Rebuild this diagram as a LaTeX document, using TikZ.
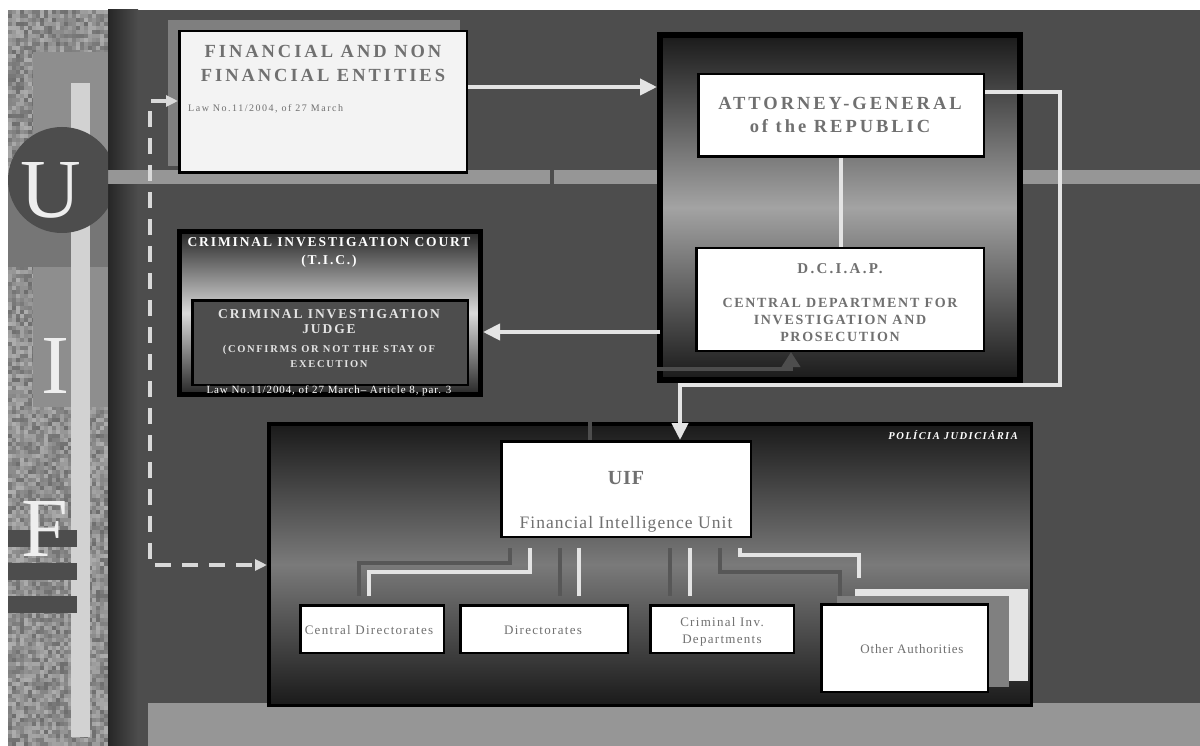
\documentclass[tikz,border=0pt]{standalone}
\usepackage{fontspec}
\setmainfont{Liberation Serif}
\usetikzlibrary{arrows.meta,patterns,calc}
\definecolor{bg}{HTML}{4D4D4D}
\definecolor{band}{HTML}{969696}
\definecolor{rectA}{HTML}{8E8E8E}
\definecolor{rectB}{HTML}{767676}
\definecolor{barl}{HTML}{D2D2D2}
\definecolor{letter}{HTML}{EEEEEE}
\definecolor{finshadow}{HTML}{7F7F7F}
\definecolor{finfill}{HTML}{F3F3F3}
\definecolor{lightline}{HTML}{E4E4E4}
\definecolor{darkline}{HTML}{575757}
\definecolor{txtgray}{HTML}{707070}
\definecolor{oashadow}{HTML}{808080}
\definecolor{edge}{HTML}{262626}
\definecolor{deep}{HTML}{1A1A1A}
\definecolor{agmid}{HTML}{A3A3A3}
\definecolor{ticmid}{HTML}{DADADA}
\definecolor{polmid}{HTML}{7A7A7A}
\definecolor{upline}{HTML}{4D4D4D}
\definecolor{dashc}{HTML}{D9D9D9}
\begin{document}
\begin{tikzpicture}[x=1pt,y=-1pt,
  box/.style={draw=black, fill=white, line width=2.5pt, anchor=north west, inner sep=0pt},
  frame/.style={draw=black, anchor=north west, inner sep=0pt},
  wline/.style={draw=lightline, line width=4pt},
  dline/.style={draw=darkline, line width=4pt},
  arr/.style={-{Triangle[length=17pt,width=16pt]}},
  txt/.style={anchor=base, inner sep=0pt, text=txtgray},
  wtxt/.style={anchor=base, inner sep=0pt, text=white},
  big/.style={anchor=base, inner sep=0pt, text=letter, font=\fontsize{84}{84}\selectfont},
]
\useasboundingbox (0,0) rectangle (1200,746);
\fill[white] (0,0) rectangle (1200,746);
\fill[bg] (108,10) rectangle (1200,746);
\shade[left color=edge, right color=bg] (108,10) rectangle (138,746);
% bands
\fill[band] (108,170) rectangle (550,184);
\fill[band] (554,170) rectangle (1200,184);
\fill[band] (148,703) rectangle (1200,746);
% left strip: woven texture
\pgfmathsetseed{11}
\fill[black!45] (8,10) rectangle (108,746);
\foreach \i in {0,...,24}{
  \foreach \j in {0,...,183}{
    \pgfmathsetmacro{\rr}{int(32+26*rnd)}
    \fill[black!\rr] (8+4*\i,10+4*\j) rectangle ++(4.2,4.2);
  }
}
\fill[rectA] (33,52) rectangle (108,407);
\fill[rectB] (8,180) rectangle (108,267);
\fill[barl] (71,83) rectangle (90,737);
\begin{scope}
\clip (8,10) rectangle (108,746);
\fill[bg] (62,180) ellipse [x radius=54pt, y radius=53pt];
\end{scope}
\fill[bg] (8,530) rectangle (77,547);
\fill[bg] (8,563) rectangle (77,580);
\fill[bg] (8,596) rectangle (77,613);
\node[big] (lu) at (51,218) {U};
\node[big] (li) at (55,393) {I};
\node[big, anchor=base west] (lf) at (21,556) {F};

% financial entities
\fill[finshadow] (168,20) rectangle (460,166);
\node[box, fill=finfill, minimum width=287.5pt, minimum height=141.5pt] (fin) at (178,30) {};
\node[txt, font=\bfseries\fontsize{18.5}{22}\selectfont\addfontfeatures{LetterSpace=16}] (t1) at (323,58) {FINANCIAL AND NON};
\node[txt, font=\bfseries\fontsize{18.5}{22}\selectfont\addfontfeatures{LetterSpace=16}] (t2) at (323,82) {FINANCIAL ENTITIES};
\node[txt, anchor=base west, font=\fontsize{10}{12}\selectfont\addfontfeatures{LetterSpace=15}] (t3) at (188,112) {Law No.11/2004, of 27 March};

% attorney general frame
\node[frame, line width=6pt, top color=deep, bottom color=deep, middle color=agmid,
      minimum width=360pt, minimum height=345pt] (agout) at (657,32) {};
\node[box, minimum width=285.5pt, minimum height=82.5pt] (ag) at (697,73) {};
\node[box, minimum width=287.5pt, minimum height=102.5pt] (dciap) at (695,247) {};
\node[txt, font=\bfseries\fontsize{18.5}{22}\selectfont\addfontfeatures{LetterSpace=16}] (t4) at (840,110) {ATTORNEY-GENERAL};
\node[txt, font=\bfseries\fontsize{18.5}{22}\selectfont\addfontfeatures{LetterSpace=16}] (t5) at (840,133) {of the REPUBLIC};
\node[txt, font=\bfseries\fontsize{15}{18}\selectfont\addfontfeatures{LetterSpace=15}] (t6) at (840,273) {D.C.I.A.P.};
\node[txt, font=\bfseries\fontsize{14}{16}\selectfont\addfontfeatures{LetterSpace=12}] (t7) at (840,308) {CENTRAL DEPARTMENT FOR};
\node[txt, font=\bfseries\fontsize{14}{16}\selectfont\addfontfeatures{LetterSpace=12}] (t8) at (840,324) {INVESTIGATION AND};
\node[txt, font=\bfseries\fontsize{14}{16}\selectfont\addfontfeatures{LetterSpace=12}] (t9) at (840,341) {PROSECUTION};
\draw[wline] (ag.south) -- (ag.south |- dciap.north);

% T.I.C.
\node[frame, line width=5pt, top color=edge, bottom color=edge, middle color=ticmid,
      minimum width=301pt, minimum height=163pt] (ticout) at (177,229) {};
\node[box, fill=bg, minimum width=275.5pt, minimum height=84.5pt] (judge) at (191,299) {};
\node[wtxt, font=\bfseries\fontsize{13.5}{16}\selectfont\addfontfeatures{LetterSpace=14}] (t10) at (329,247) {CRIMINAL INVESTIGATION COURT};
\node[wtxt, font=\bfseries\fontsize{13.5}{16}\selectfont\addfontfeatures{LetterSpace=14}] (t11) at (329,265) {(T.I.C.)};
\node[wtxt, text=lightline, font=\bfseries\fontsize{13.5}{16}\selectfont\addfontfeatures{LetterSpace=14}] (t12) at (329,318) {CRIMINAL INVESTIGATION};
\node[wtxt, text=lightline, font=\bfseries\fontsize{13.5}{16}\selectfont\addfontfeatures{LetterSpace=14}] (t13) at (329,333) {JUDGE};
\node[wtxt, text=lightline, font=\bfseries\fontsize{10.5}{13}\selectfont\addfontfeatures{LetterSpace=16}] (t14) at (329,352) {(CONFIRMS OR NOT THE STAY OF};
\node[wtxt, text=lightline, font=\bfseries\fontsize{10.5}{13}\selectfont\addfontfeatures{LetterSpace=16}] (t15) at (329,367) {EXECUTION};
\node[wtxt, font=\fontsize{11}{13}\selectfont\addfontfeatures{LetterSpace=8}] (t16) at (329,393) {Law No.11/2004, of 27 March\textendash{} Article 8, par. 3};

% Policia Judiciaria
\node[frame, line width=3.5pt, top color=deep, bottom color=deep, middle color=polmid,
      minimum width=762.5pt, minimum height=281.5pt] (pol) at (267,422) {};
\node[wtxt, anchor=base east, font=\bfseries\itshape\fontsize{10.5}{12}\selectfont\addfontfeatures{LetterSpace=14}] (t17) at (1018,439) {POLÍCIA JUDICIÁRIA};
\node[box, minimum width=249.5pt, minimum height=95.5pt] (uif) at (500,440) {};
\node[txt, font=\bfseries\fontsize{20}{24}\selectfont\addfontfeatures{LetterSpace=4}] (t18) at (626,484) {UIF};
\node[txt, font=\fontsize{17.5}{20}\selectfont\addfontfeatures{LetterSpace=6}] (t19) at (626,528) {Financial Intelligence Unit};

% sub-units
\fill[lightline] (855,589) rectangle (1028,681);
\fill[oashadow] (837,596) rectangle (1009,687);
\node[box, minimum width=143.5pt, minimum height=47.5pt] (cd) at (299,604) {};
\node[box, minimum width=167.5pt, minimum height=47.5pt] (dir) at (459,604) {};
\node[box, minimum width=143.5pt, minimum height=47.5pt] (cid) at (649,604) {};
\node[box, minimum width=166.5pt, minimum height=87.5pt] (oa) at (820,603) {};
\node[txt, font=\fontsize{13}{15}\selectfont\addfontfeatures{LetterSpace=10}] (t20) at (369,634) {Central Directorates};
\node[txt, font=\fontsize{13}{15}\selectfont\addfontfeatures{LetterSpace=10}] (t21) at (543,634) {Directorates};
\node[txt, font=\fontsize{13}{15}\selectfont\addfontfeatures{LetterSpace=10}] (t22) at (722,626) {Criminal Inv.};
\node[txt, font=\fontsize{13}{15}\selectfont\addfontfeatures{LetterSpace=10}] (t23) at (722,643) {Departments};
\node[txt, font=\fontsize{13}{15}\selectfont\addfontfeatures{LetterSpace=6}] (t24) at (912,653) {Other Authorities};

% connectors UIF -> sub-units
\draw[dline] ($(uif.south)+(-116,10)$) -- ++(0,15) -| ($(cd.north)+(-13,-8)$);
\draw[wline] ($(uif.south)+(-96,10)$) -- ++(0,24) -| ($(cd.north)+(-3,-8)$);
\draw[dline] ($(uif.south)+(-66,10)$) -- ($(uif.south |- dir.north)+(-66,-8)$);
\draw[wline] ($(uif.south)+(-47,10)$) -- ($(uif.south |- dir.north)+(-47,-8)$);
\draw[dline] ($(uif.south)+(44,10)$) -- ($(uif.south |- cid.north)+(44,-8)$);
\draw[wline] ($(uif.south)+(64,10)$) -- ($(uif.south |- cid.north)+(64,-8)$);
\draw[dline] ($(uif.south)+(94,10)$) -- ++(0,24) -| ($(oa.north)+(-64.5,-7)$);
\draw[wline] ($(uif.south)+(114,10)$) -- ++(0,7) -| ($(oa.north)+(-45.5,-25)$);

% main connectors
\coordinate (ya) at (0,87);
\coordinate (yb) at (0,332);
\coordinate (r1) at (1060,385);
\coordinate (c2) at (791,369);
\coordinate (d1) at (150,565);
\coordinate (yd) at (0,101);
\draw[wline, arr] (fin.east |- ya) -- (agout.west |- ya);
\draw[wline, arr] ([xshift=3pt]agout.west |- yb) -- (ticout.east |- yb);
\draw[wline, arr] ([yshift=23.5pt]ag.east) -| (r1) -| ([xshift=54pt]uif.north);
\draw[draw=upline, line width=4pt, -{Triangle[length=15pt,width=18pt]}] ([xshift=-36pt]uif.north) |- (c2) -- (c2 |- dciap.south);
\draw[draw=dashc, line width=4.5pt, dash pattern=on 16pt off 11pt,
      {Triangle[length=12pt,width=11pt]}-{Triangle[length=12pt,width=11pt]}] (fin.west |- yd) -| (d1) -- (d1 -| pol.west);
\end{tikzpicture}
\end{document}
